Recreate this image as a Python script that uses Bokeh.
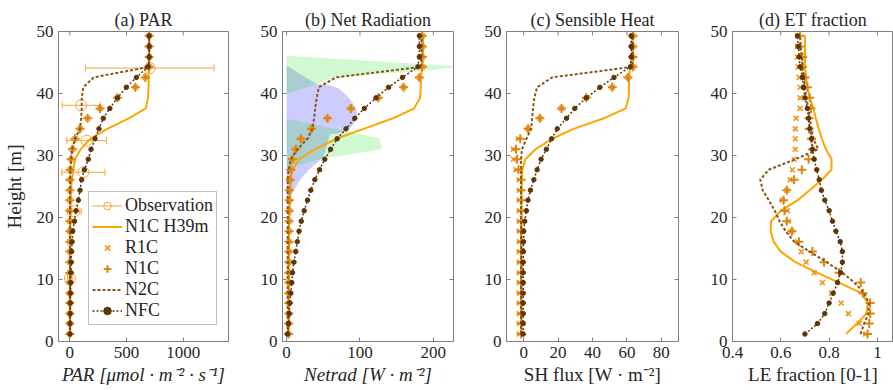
import math
from bokeh.plotting import figure
from bokeh.layouts import row
from bokeh.models import Range1d, FixedTicker, Legend, LegendItem
from bokeh.embed import file_html
from bokeh.resources import INLINE

FONT = "Liberation Serif"

# ---------------- data (heights in m, ascending) ----------------
heights = [1.2, 2.9, 4.5, 6.2, 7.8, 9.5, 11.1, 12.8, 14.5, 16.1, 17.8, 19.4, 21.1, 22.8, 24.4,
           26.1, 27.7, 29.4, 31.0, 32.7, 34.3, 36.0, 37.6, 39.3, 41.0, 42.6, 44.3, 45.9, 47.6, 49.3]

# (a) PAR
par_h39 = [4, 4, 4, 4, 4, 4, 5, 5, 5, 5, 5, 5, 6, 7, 10,
           17, 30, 46, 95, 180, 330, 520, 670, 690, 695, 695, 700, 700, 700, 700]
par_r1c = [0, 0, 0, 0, 0, 0, 0, 0, 0, 0, 0, 0, 0, 0, 0,
           1, 3, 11, 23, 46, 90, 157, 266, 420, 578, 666, 700, 700, 700, 700]
par_n1c = [0, 0, 0, 0, 0, 0, 0, 0, 0, 0, 0, 0, 0, 0, 0,
           1, 3, 11, 23, 46, 90, 157, 266, 420, 578, 666, 700, 700, 700, 700]
par_n2c = [1, 1, 1, 1, 1, 1, 1, 1, 1, 1, 1, 1, 2, 2, 3,
           4, 5, 11, 20, 46, 90, 100, 105, 105, 119, 210, 700, 700, 700, 700]
par_nfc = [1, 2, 3, 4, 5, 7, 9, 11, 15, 20, 26, 41, 55, 75, 90,
           104, 128, 163, 187, 222, 257, 295, 353, 420, 499, 587, 690, 700, 700, 700]
obs_h = [10.2, 21.0, 27.3, 32.4, 38.1, 44.1]
obs_par = [0, 40, 120, 148, 100, 705]
obs_err = [20, 60, 190, 175, 168, 568]

# (b) Net radiation
nr_h39 = [3, 3, 3, 3, 3, 3, 3, 3, 3, 3, 3, 3.5, 4, 4.5, 5,
          5.5, 8, 17, 38, 68, 105, 145, 174, 182, 183, 183, 185, 186, 186, 186]
nr_r1c = [2.5, 2.8, 3, 3, 3, 3, 3, 3, 3.2, 3.3, 3.4, 3.5, 3.6, 3.7, 3.9,
          4.8, 5.7, 8, 12.5, 19.4, 34, 55.8, 87.6, 125, 159.5, 181, 185, 185, 185, 185]
nr_n1c = [2.5, 2.8, 3, 3, 3, 3, 3, 3, 3.2, 3.3, 3.4, 3.5, 3.6, 3.7, 3.9,
          4.8, 5.7, 8, 12.5, 19.4, 34, 55.8, 87.6, 125, 159.5, 181, 185, 185, 185, 185]
nr_n2c = [1.5, 1.5, 1.5, 1.5, 1.5, 1.5, 1.5, 1.5, 1.5, 1.5, 1.5, 1.5, 1.5, 1.5, 1.5,
          1.5, 2.6, 5.7, 14.8, 28.5, 35.3, 37.5, 39, 41, 44, 67, 183, 184, 184, 184]
nr_nfc = [1.2, 2.6, 3.5, 4.4, 5.7, 7, 8, 10, 12.5, 14.6, 17, 20, 24, 28.5, 33,
          38.5, 45, 52, 60, 69, 81, 93, 106, 122, 139, 158, 179, 181, 181, 181]
# observed ranges (shaded)
range_a_x = [0, 240, 190, 65, 41, 0]
range_a_h = [46.1, 44.35, 43.7, 42.6, 41.5, 39.9]
range_b_x = [0, 127, 129.5, 45.6, 0]
range_b_h = [35.9, 32.8, 31.0, 29.4, 27.9]
range_c_x = [0, 41, 59, 70, 77, 85, 91, 95, 96, 93, 88, 82, 70, 59, 55, 50, 43, 36, 29, 23, 17, 12, 8, 5, 0]
range_c_h = [44.5, 41.5, 41.3, 40.9, 40.2, 39.3, 38.3, 37.4, 36.7, 35.3, 34.6, 34.0, 33.6, 33.4, 31.5,
             29.7, 29.0, 28.3, 27.5, 26.7, 25.8, 24.8, 24.0, 23.2, 22.4]

# (c) Sensible heat
sh_h39 = [-1.2, -1.2, -1.2, -1.2, -1.2, -1.2, -1.2, -1.2, -1.2, -1.2, -1.2, -1.2, -1.2, -1.2, -1.2,
          -1.2, -0.8, 1, 6.8, 16.5, 29, 46.6, 59.3, 61, 61.2, 61.2, 62, 63, 63, 63]
sh_r1c = [-2.5, -2.5, -2.5, -2.5, -2.5, -2.5, -2.5, -2.5, -2.5, -2.5, -2.5, -2.5, -2.5, -2.5, -2.5,
          -2.5, -4.5, -6, -6, -3, 2.5, 9.4, 22, 36.4, 51.5, 60.6, 63.5, 63.5, 63.5, 63.5]
sh_n1c = [-1.5, -1.5, -1.5, -1.5, -1.5, -1.5, -1.5, -1.5, -1.5, -1.5, -1.5, -1.5, -1.5, -1.5, -1.5,
          -1.5, -3, -3.8, -4.5, -2, 2.5, 9.4, 22, 36.4, 51.5, 60.6, 63.5, 63.5, 63.5, 63.5]
sh_n2c = [-1.5, -1.5, -1.5, -1.5, -1.5, -1.5, -1.5, -1.5, -1.5, -1.5, -1.5, -1.5, -1.5, -1.5, -1.5,
          -1.5, -1.5, -1.5, -1.0, 1.6, 4.3, 4.9, 5.4, 6.2, 7.8, 16.5, 63, 63.5, 63.5, 63.5]
sh_nfc = [-0.3, -0.3, -0.3, -0.3, -0.3, -0.3, -0.3, -0.3, -0.2, -0.1, 0, 0.6, 1.6, 2.5, 3.9,
          5.9, 7.8, 10.1, 13.2, 16.2, 19.5, 24.9, 29.7, 36.4, 44.3, 52.5, 62, 62.5, 62.5, 62.5]

# (d) ET fraction
le_h39 = [0.87, 0.915, 0.955, 0.96, 0.935, 0.84, 0.75, 0.66, 0.60, 0.57, 0.558, 0.56, 0.60, 0.67, 0.72,
          0.77, 0.81, 0.81, 0.787, 0.77, 0.757, 0.745, 0.735, 0.72, 0.71, 0.705, 0.70, 0.70, 0.70, 0.70]
le_r1c = [0.952, 0.925, 0.88, 0.85, 0.81, 0.772, 0.738, 0.705, 0.685, 0.669, 0.645, 0.63, 0.627, 0.607, 0.625,
          0.638, 0.648, 0.655, 0.66, 0.66, 0.66, 0.663, 0.68, 0.68, 0.68, 0.676, 0.672, 0.669, 0.669, 0.669]
le_n1c = [0.959, 0.966, 0.97, 0.97, 0.94, 0.931, 0.841, 0.779, 0.731, 0.675, 0.646, 0.625, 0.615, 0.611, 0.625,
          0.655, 0.687, 0.715, 0.731, 0.727, 0.717, 0.717, 0.725, 0.72, 0.71, 0.70, 0.69, 0.69, 0.68, 0.68]
le_n2c = [0.93, 0.945, 0.963, 0.965, 0.945, 0.905, 0.855, 0.79, 0.72, 0.655, 0.62, 0.595, 0.575, 0.55, 0.525,
          0.515, 0.55, 0.66, 0.755, 0.735, 0.727, 0.72, 0.715, 0.705, 0.70, 0.695, 0.69, 0.686, 0.683, 0.68]
le_nfc = [0.70, 0.752, 0.782, 0.80, 0.817, 0.835, 0.848, 0.855, 0.855, 0.846, 0.828, 0.814, 0.80, 0.782, 0.768,
          0.759, 0.749, 0.738, 0.731, 0.727, 0.72, 0.715, 0.71, 0.70, 0.694, 0.69, 0.68, 0.676, 0.672, 0.669]

y_ticks = [0, 10, 20, 30, 40, 50]

# ---------------- styles ----------------
C_OBS = "#F4A540"
C_H39 = "#FFA500"
C_R1C = "#F7931E"
C_N1C = "#D8870F"
C_N2C = "#8C5416"
C_NFC = "#5E3508"
AX = "#808080"
TXT = "#262626"


def base(title, xr, xticks, left, fw, right, mirror_right=True):
    p = figure(width=left + fw + right, height=390, x_range=Range1d(*xr), y_range=Range1d(0, 50),
               output_backend="svg", toolbar_location=None,
               min_border_left=left, min_border_right=right, min_border_top=31, min_border_bottom=49)
    p.title.text = title
    p.title.align = "center"
    p.title.text_font = FONT
    p.title.text_font_size = "18px"
    p.title.text_font_style = "normal"
    p.title.text_color = TXT
    p.title.standoff = 4
    p.xgrid.visible = False
    p.ygrid.visible = False
    p.outline_line_color = AX
    p.outline_line_width = 1
    p.xaxis.ticker = FixedTicker(ticks=xticks)
    p.yaxis.ticker = FixedTicker(ticks=y_ticks)
    for ax in (p.xaxis[0], p.yaxis[0]):
        ax.axis_line_color = AX
        ax.major_tick_line_color = AX
        ax.major_tick_in = 4
        ax.major_tick_out = 0
        ax.minor_tick_line_color = None
        ax.major_label_text_font = FONT
        ax.major_label_text_font_size = "17px"
        ax.major_label_text_color = TXT
        ax.major_label_standoff = 5
        ax.axis_label_text_font = FONT
        ax.axis_label_text_font_size = "19px"
        ax.axis_label_text_color = TXT
        ax.axis_label_standoff = 3
    # mirrored (inward) ticks on the top and right frame edges
    p.scatter(xticks, [50] * len(xticks), marker="dash", angle=math.pi / 2, size=8,
              line_color=AX, line_width=1)
    if mirror_right:
        p.scatter([xr[1]] * len(y_ticks), y_ticks, marker="dash", size=8, line_color=AX, line_width=1)
    return p


def draw_models(p, h39, r1c, n1c, n2c, nfc):
    r_h39 = p.line(h39, heights, line_color=C_H39, line_width=2)
    r_r1c = p.scatter(r1c, heights, marker="x", size=7, line_color=C_R1C, line_width=1.6)
    r_n1c = p.scatter(n1c, heights, marker="cross", size=9, line_color=C_N1C, line_width=2)
    r_n2c = p.line(n2c, heights, line_color=C_N2C, line_width=2, line_dash="3 2")
    r_nfcl = p.line(nfc, heights, line_color=C_NFC, line_width=1.5, line_dash="2 2")
    r_nfcm = p.scatter(nfc, heights, marker="circle", size=4.5, fill_color=C_NFC, line_color=C_NFC)
    return r_h39, r_r1c, r_n1c, r_n2c, r_nfcl, r_nfcm


# (a) PAR
pa = base("(a) PAR", (-100, 1400), [0, 500, 1000], 57, 171, 27)
pa.xaxis[0].axis_label = "PAR [μmol · m⁻² · s⁻¹]"
pa.xaxis[0].axis_label_text_font_style = "italic"
pa.yaxis[0].axis_label = "Height [m]"
pa.yaxis[0].axis_label_text_font_style = "normal"
pa.yaxis[0].axis_label_standoff = 9
x0 = [v - e for v, e in zip(obs_par, obs_err)]
x1 = [v + e for v, e in zip(obs_par, obs_err)]
r_eb = pa.segment(x0, obs_h, x1, obs_h, line_color=C_OBS, line_width=1)
pa.scatter(x0, obs_h, marker="dash", angle=math.pi / 2, size=7, line_color=C_OBS, line_width=1)
pa.scatter(x1, obs_h, marker="dash", angle=math.pi / 2, size=7, line_color=C_OBS, line_width=1)
r_obs = pa.scatter(obs_par, obs_h, marker="circle", size=11, fill_color=None, line_color=C_OBS, line_width=1)
ra = draw_models(pa, par_h39, par_r1c, par_n1c, par_n2c, par_nfc)
legend = Legend(items=[
    LegendItem(label="Observation", renderers=[r_eb, r_obs]),
    LegendItem(label="N1C H39m", renderers=[ra[0]]),
    LegendItem(label="R1C", renderers=[ra[1]]),
    LegendItem(label="N1C", renderers=[ra[2]]),
    LegendItem(label="N2C", renderers=[ra[3]]),
    LegendItem(label="NFC", renderers=[ra[4], ra[5]]),
], location=(30, 16), label_text_font=FONT, label_text_font_size="18px", label_text_color=TXT,
    glyph_width=30, glyph_height=19, label_height=19, spacing=0, padding=3, margin=0,
    label_standoff=3, border_line_color=AX, background_fill_alpha=1.0)
pa.add_layout(legend)

# (b) Net radiation
pb = base("(b) Net Radiation", (-5.6, 227.6), [0, 100, 200], 27, 171, 27)
pb.xaxis[0].axis_label = "Netrad [W · m⁻²]"
pb.xaxis[0].axis_label_text_font_style = "italic"
pb.patch(range_c_x, range_c_h, fill_color="#0000FF", fill_alpha=0.2, line_color=None)
pb.patch(range_a_x, range_a_h, fill_color="#00DD00", fill_alpha=0.18, line_color=None)
pb.patch(range_b_x, range_b_h, fill_color="#00DD00", fill_alpha=0.18, line_color=None)
draw_models(pb, nr_h39, nr_r1c, nr_n1c, nr_n2c, nr_nfc)

# (c) Sensible heat
pc = base("(c) Sensible Heat", (-10, 90), [0, 20, 40, 60, 80], 26, 172, 27)
pc.xaxis[0].axis_label = "SH flux [W · m⁻²]"
pc.xaxis[0].axis_label_text_font_style = "normal"
draw_models(pc, sh_h39, sh_r1c, sh_n1c, sh_n2c, sh_nfc)

# (d) ET fraction
pd_ = base("(d) ET fraction", (0.4, 0.4 + 161 / 241.5), [0.4, 0.6, 0.8, 1.0], 27, 161, 0, mirror_right=False)
pd_.xaxis[0].axis_label = "LE fraction [0-1]"
pd_.xaxis[0].axis_label_text_font_style = "normal"
pd_.xaxis[0].major_label_overrides = {1.0: "1"}
draw_models(pd_, le_h39, le_r1c, le_n1c, le_n2c, le_nfc)

layout = row(pa, pb, pc, pd_, spacing=0)
open("out.html", "w").write(file_html(layout, INLINE))
